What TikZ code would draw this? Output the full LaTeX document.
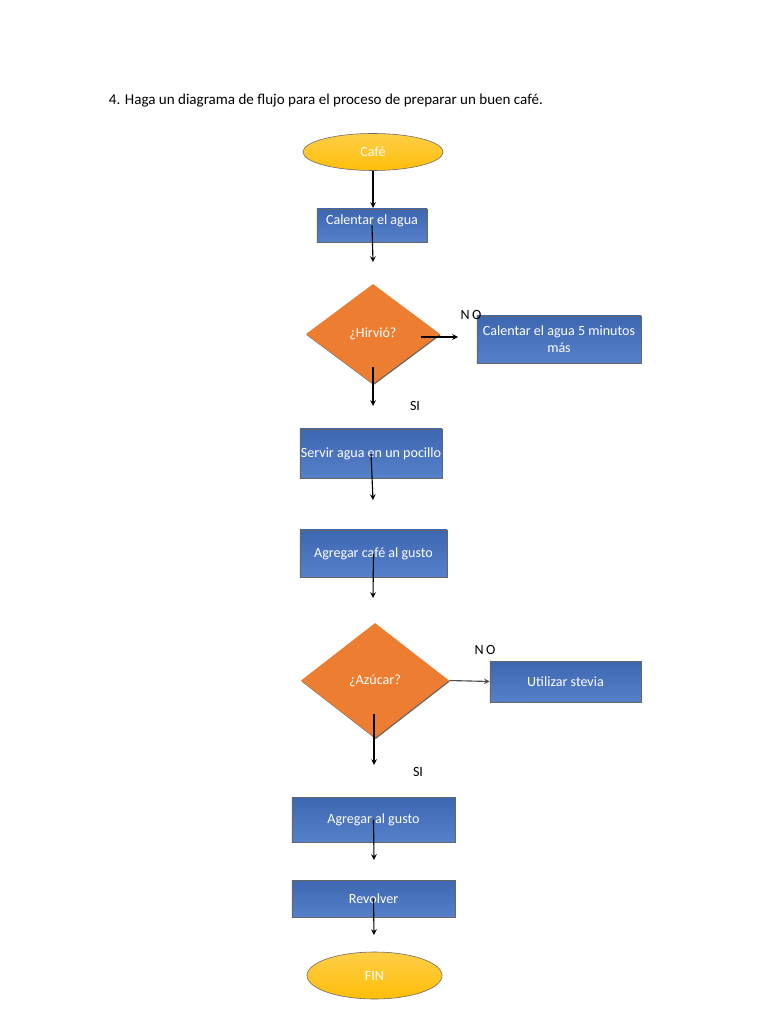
\documentclass[tikz,border=0pt]{standalone}
\usepackage{fontspec}
\setmainfont{Carlito}
\usepackage{tikz}
\usetikzlibrary{positioning,shapes.geometric,shadows,arrows}
\definecolor{cafegold}{RGB}{255,190,10}
\definecolor{cafeorange}{RGB}{237,125,49}
\definecolor{cafeblue}{RGB}{68,114,196}
\tikzstyle{startstop} = [ellipse, inner sep=0pt, text centered, draw=black!60, top color=cafegold!75!white, bottom color=cafegold, text=white, font=\fontsize{10}{12}\selectfont]
\tikzstyle{process} = [rectangle, inner sep=0pt, text centered, draw=black!60, top color=cafeblue!90!black, bottom color=cafeblue!90!white, text=white, font=\fontsize{10}{12}\selectfont, drop shadow={shadow xshift=0.4pt, shadow yshift=-0.8pt, fill=black!75, opacity=1}]
\tikzstyle{decision} = [diamond, inner sep=0pt, text centered, fill=cafeorange, text=white, font=\fontsize{10}{12}\selectfont, drop shadow={shadow xshift=0.5pt, shadow yshift=-0.8pt, fill=black!60, opacity=1}]
\tikzstyle{answer} = [font=\fontsize{10}{12}\selectfont]
\tikzstyle{arrow} = [thick,->,>=stealth]

\begin{document}
\begin{tikzpicture}[x=0.025cm, y=-0.025cm]
\fill[white] (0,0) rectangle (768,1024);
\useasboundingbox (0,0) rectangle (768,1024);

\node (titulo) [anchor=west, font=\fontsize{10.7}{13}\selectfont] at (104,101) {4. Haga un diagrama de flujo para el proceso de preparar un buen café.};

\node (cafe) [startstop, minimum width=3.5cm, minimum height=0.925cm] at (373,152) {Café};
\node (calentar) [process, minimum width=2.75cm, minimum height=0.825cm, text height=7pt, text depth=9pt] at (372,225.5) {Calentar el agua};
\node (hirvio) [decision, minimum width=3.35cm, minimum height=2.5cm] at (373,334) {¿Hirvió?};
\node (cincomin) [process, minimum width=4.1cm, minimum height=1.175cm, align=center] at (559,339.5) {Calentar el agua 5 minutos\\más};
\node (servir) [process, minimum width=3.55cm, minimum height=1.225cm] at (371,453.5) {Servir agua en un pocillo};
\node (agregarcafe) [process, minimum width=3.675cm, minimum height=1.175cm] at (373.5,553.5) {Agregar café al gusto};
\node (azucar) [decision, minimum width=3.7cm, minimum height=2.875cm] at (375,680.5) {¿Azúcar?};
\node (stevia) [process, minimum width=3.775cm, minimum height=1.025cm] at (565.5,681.5) {Utilizar stevia};
\node (agregargusto) [process, minimum width=4.075cm, minimum height=1.125cm] at (373.5,819.5) {Agregar al gusto};
\node (revolver) [process, minimum width=4.075cm, minimum height=0.925cm] at (373.5,898.5) {Revolver};
\node (fin) [startstop, minimum width=3.375cm, minimum height=1.175cm] at (374.5,975.5) {FIN};

\node (no1) [answer] at (471,315) {N\,O};
\node (si1) [answer] at (415,406) {SI};
\node (no2) [answer] at (485,650) {N\,O};
\node (si2) [answer] at (418,772) {SI};

% puntas libres de las flechas
\coordinate (p1) at (373,208);
\coordinate (p2) at (373,262);
\coordinate (hsi) at (373,367);
\coordinate (p3) at (373,406);
\coordinate (hno) at (421,337);
\coordinate (p4) at (458,337);
\coordinate (p5) at (373,500);
\coordinate (p6) at (373,598);
\coordinate (asi) at (374,714);
\coordinate (p7) at (374,765);
\coordinate (p8) at (374,860);
\coordinate (p9) at (374,935);

\draw [arrow] (cafe) -- (p1);
\draw [arrow] (calentar.center) -- (p2);
\draw [arrow] (hsi) -- (p3);
\draw [arrow] (hno) -- (p4);
\draw [arrow] (servir.center) -- (p5);
\draw [arrow] (agregarcafe.center) -- (p6);
\draw [arrow, draw=black!70] (azucar.east) -- (stevia.west);
\draw [arrow] (asi) -- (p7);
\draw [arrow] (agregargusto.center) -- (p8);
\draw [arrow] (revolver.center) -- (p9);

\end{tikzpicture}
\end{document}
